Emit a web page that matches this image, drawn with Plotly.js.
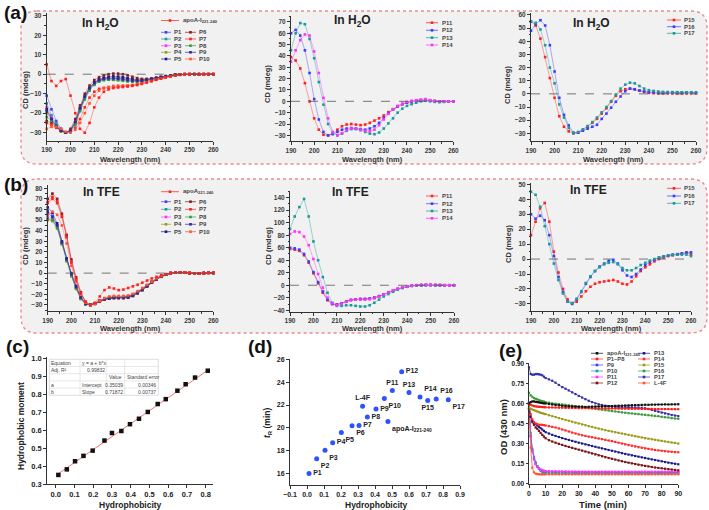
<!DOCTYPE html>
<html>
<head>
<meta charset="utf-8">
<script src="https://cdn.plot.ly/plotly-3.0.1.min.js"></script>
<style>html,body{margin:0;padding:0;background:#fff;}#chart{width:709px;height:510px;}</style>
</head>
<body>
<div id="chart"></div>
<script>
// ================= DATA =================
const wavelength = [190,192,194,196,198,200,202,204,206,208,210,212,214,216,218,220,222,224,226,228,230,232,234,236,238,240,242,244,246,248,250,252,254,256,258,260];

// (a) CD in H2O
const h2o_apoA = [5,-3.5,-6,-3.5,-2.5,-11,-20,-28,-30,-25,-17,-12,-9,-7.8,-7.1,-6.8,-6.6,-6.3,-6,-5.6,-5,-4.3,-3.6,-2.9,-2.2,-1.6,-1.1,-0.7,-0.3,0,0,0,0.1,0,0,0];
const h2o_P1 = [-11,-18,-24,-28,-30,-29,-25,-18,-12,-7.5,-4.5,-3,-2.2,-2,-2,-2,-2.2,-2.6,-3,-3.3,-3.3,-3,-2.6,-2.1,-1.6,-1.1,-0.7,-0.4,-0.2,0,0,0,0,0,0,0];
const h2o_P2 = [-15,-21,-25,-28,-30,-29.5,-26,-19,-13,-8.5,-5.5,-3.8,-3,-2.8,-2.8,-2.9,-3.1,-3.4,-3.6,-3.7,-3.6,-3.3,-2.9,-2.3,-1.8,-1.3,-0.9,-0.5,-0.2,0,0,0,0,0,0,0];
const h2o_P3 = [-17,-22,-26,-29,-30,-29,-25,-18,-12,-7.5,-4.8,-3.2,-2.5,-2.2,-2.2,-2.4,-2.7,-3,-3.3,-3.4,-3.3,-3,-2.6,-2.1,-1.6,-1.1,-0.7,-0.4,-0.2,0,0,0,0,0,0,0];
const h2o_P4 = [-20,-24,-27,-29.5,-30,-28.5,-24,-17,-11,-7,-4.3,-2.8,-2,-1.6,-1.5,-1.6,-1.9,-2.3,-2.7,-3,-3,-2.8,-2.4,-1.9,-1.4,-1,-0.6,-0.3,-0.1,0,0,0,0,0,0,0];
const h2o_P5 = [-18,-23,-27,-29,-30,-29,-24.5,-17.5,-11.5,-7,-4.2,-2.6,-1.8,-1.3,-1.1,-1.2,-1.5,-2,-2.5,-2.8,-2.9,-2.7,-2.3,-1.9,-1.4,-1,-0.6,-0.3,-0.1,0,0,0,0,0,0,0];
const h2o_P6 = [-24,-25,-27,-29,-30,-28,-23,-16,-10,-5.8,-3,-1.5,-0.6,0,0.3,0.3,0,-0.6,-1.3,-2,-2.4,-2.4,-2.2,-1.8,-1.4,-1,-0.6,-0.3,-0.1,0,0,0,0,0,0,0];
const h2o_P7 = [-25,-26,-27.5,-29,-30,-29.5,-27.5,-23,-17,-12,-9,-7.5,-7,-6.8,-6.6,-6.5,-6.3,-6,-5.6,-5,-4.4,-3.8,-3.2,-2.6,-2,-1.5,-1,-0.6,-0.3,-0.1,0,0,0,0,0,0];
const h2o_P8 = [-22,-24,-26,-28.5,-30,-29,-25,-18.5,-12.5,-8,-5.2,-3.7,-3,-2.8,-2.9,-3.1,-3.4,-3.7,-3.9,-4,-3.8,-3.4,-2.9,-2.3,-1.8,-1.3,-0.9,-0.5,-0.2,0,0,0,0,0,0,0];
const h2o_P9 = [-19,-23,-26.5,-29,-30,-29,-24.5,-17.5,-11.5,-7.3,-4.6,-3.1,-2.4,-2.1,-2.1,-2.3,-2.6,-3,-3.3,-3.4,-3.3,-3,-2.6,-2.1,-1.6,-1.1,-0.7,-0.4,-0.2,0,0,0,0,0,0,0];
const h2o_P10 = [-28,-27,-27,-28,-29.5,-30,-28.5,-25,-20,-15,-11,-8.5,-7.3,-6.5,-6,-5.8,-5.8,-5.8,-5.6,-5.2,-4.7,-4.1,-3.5,-2.8,-2.2,-1.6,-1.1,-0.7,-0.3,-0.1,0,0,0,0,0,0];
const h2o_P11 = [39,36,29,16,0,-15,-25,-29.5,-30,-28.5,-25,-22,-20.5,-20,-20.5,-21,-20.5,-19,-17,-15,-12.5,-9.5,-7,-4.5,-2.5,-1.2,-0.2,0.5,1,1,0.6,0.3,0,0,0,0];
const h2o_P12 = [60,63,58,45,25,2,-16,-27,-30,-29,-27,-25,-24,-23.5,-24,-24.5,-25,-24,-22,-19,-14.5,-10.5,-7,-4.5,-2.5,-1,0,0.6,1,1,0.5,0.2,0,0,0,0];
const h2o_P13 = [45,60,69,68,55,38,17,-3,-20,-28,-30,-28.5,-26,-24.5,-24.5,-25.5,-27,-28.5,-29,-27.5,-24,-19.5,-15,-10,-6.5,-4,-2.5,-1.2,0,0.5,0,-0.5,-0.8,-0.5,0,0];
const h2o_P14 = [35,45,54,59,58,44,25,3,-15,-27,-30,-28,-25.5,-24,-24,-25,-26,-26.5,-25,-21,-16,-11,-7,-4,-2,-0.5,0.5,1,1.5,2,1,0.3,0,0,0,0];
const h2o_P15 = [55,52,42,28,12,-3,-17,-25,-28.5,-30,-29.5,-27.5,-25,-22,-19,-15,-11,-6,-1.5,2,3.5,4,3.5,2.5,1.5,0.8,0.5,0.3,0.3,0.3,0.3,0.3,0.3,0.3,0.3,0.3];
const h2o_P16 = [48,53,56,52,37,17,-3,-16,-24,-29.5,-29.5,-28,-26.5,-25,-23.5,-19,-15,-10.5,-6,-2,2,4,3.5,2.5,1.8,1.3,1.1,1,1,1,1,1,1,1,1,1];
const h2o_P17 = [55,54,49,37,20,8,-8,-18,-26,-30,-29,-27,-24.5,-21.5,-18,-14,-10,-5.5,-0.5,4,7,8.5,8,6,4,2.8,2.2,1.8,1.5,1.4,1.3,1.3,1.2,1.2,1.2,1.2];

// (b) CD in TFE
const tfe_apoA = [66,70,66,53,34,10,-6,-19,-27,-30,-28,-22,-16,-13.5,-14.5,-16,-15.5,-14,-12.5,-11,-9,-7,-5,-3.5,-2,-1,0,0.5,0.8,0.5,0,-0.5,-0.3,0,0.5,0.3];
const tfe_P1 = [59,54,45,29,13,-1,-13,-23,-29,-30,-28.5,-26,-24.5,-23.5,-23,-23,-23,-22.5,-21,-18.5,-15.5,-12,-8.5,-5.5,-3,-1.3,0,0.5,0.7,0.5,0,-0.5,-0.4,0,0.3,0.2];
const tfe_P2 = [52,50,43,28,12,-2,-14,-24,-29,-30,-28.5,-26,-24,-23,-22.5,-22.5,-22.5,-22,-20.5,-18,-15,-11.5,-8,-5,-2.8,-1.2,0,0.5,0.7,0.5,0,-0.5,-0.4,0,0.3,0.2];
const tfe_P3 = [54,51,44,28,12,-2,-14,-24,-29,-30,-28.5,-26,-24,-23,-22.5,-22.5,-22.5,-22,-20.5,-18,-15,-11.5,-8,-5,-2.8,-1.2,0,0.5,0.7,0.5,0,-0.5,-0.4,0,0.3,0.2];
const tfe_P4 = [50,49,42,27,11,-3,-15,-24.5,-29.5,-30,-28.5,-26,-24.5,-23.5,-23,-23,-23,-22.5,-21,-18.5,-15.5,-12,-8.5,-5.5,-3,-1.3,0,0.5,0.7,0.5,0,-0.5,-0.4,0,0.3,0.2];
const tfe_P5 = [62,57,47,30,14,0,-12,-23,-29,-30,-28.5,-26.5,-25,-24,-23.5,-23.5,-23.5,-23,-21.5,-19,-16,-12.5,-9,-6,-3.3,-1.5,0,0.5,0.7,0.5,0,-0.5,-0.4,0,0.3,0.2];
const tfe_P6 = [70,75,70,56,36,13,-4,-18,-27,-30,-29,-27,-25,-24,-23.5,-23.5,-23.5,-23,-21.5,-19,-16,-12.5,-9,-6,-3.5,-1.5,0,0.5,0.8,0.6,0.2,-0.3,-0.3,0,0.3,0.2];
const tfe_P7 = [67,72,68,54,34,11,-5,-19,-27.5,-30,-29,-26.5,-24.5,-23,-22.5,-22.5,-22.5,-22,-20.5,-18,-15,-11.5,-8.5,-5.5,-3,-1.2,0,0.5,0.8,0.6,0.2,-0.3,-0.3,0,0.3,0.2];
const tfe_P8 = [51,50,43,28,12,-2,-14,-24,-29,-30,-28.5,-26,-24,-23,-22.5,-22.5,-22.5,-22,-20.5,-18,-15,-11.5,-8,-5,-2.8,-1.2,0,0.5,0.7,0.5,0,-0.5,-0.4,0,0.3,0.2];
const tfe_P9 = [57,53,45,29,13,-1,-13,-23,-29,-30,-28.5,-26,-24.5,-23.5,-23,-23,-23,-22.5,-21,-18.5,-15.5,-12,-8.5,-5.5,-3,-1.3,0,0.5,0.7,0.5,0,-0.5,-0.4,0,0.3,0.2];
const tfe_P10 = [55,58,55,45,28,7,-8,-20,-28,-30.5,-29,-26,-23.5,-22,-21.5,-21.5,-21.5,-21,-19.5,-17,-14,-11,-8,-5,-2.8,-1,0,0.5,0.8,0.6,0.2,-0.3,-0.3,0,0.3,0.2];
const tfe_P11 = [58,57,55,48,36,19,3,-12,-24,-30,-31,-29,-26,-23.5,-22.5,-22,-22,-21.5,-20,-17.5,-14.5,-11.5,-8.5,-6,-3.8,-2,-0.8,0,0.3,0.5,0.5,0.3,0.2,0,0,0];
const tfe_P12 = [60,59,57,50,38,21,5,-10,-23,-30,-31,-29,-26,-23.5,-22.5,-22,-22,-21.5,-20,-17.5,-14.5,-11.5,-8.5,-6,-3.8,-2,-0.8,0,0.3,0.5,0.5,0.3,0.2,0,0,0];
const tfe_P13 = [90,110,125,138,110,70,40,13,-12,-28,-33,-33,-32,-32,-33,-34,-34,-32,-28,-23,-18,-14,-10.5,-7,-4.5,-2.5,-1.2,-0.6,-0.3,0,0,0,0,0,0,0];
const tfe_P14 = [82,86,85,78,64,42,18,-4,-20,-29,-32,-29.5,-26.5,-24,-23,-23,-23,-22.5,-21,-18,-14.5,-11,-8,-5.5,-3.3,-1.6,-0.5,0,0.4,0.6,0.6,0.4,0.2,0,0,0];
const tfe_P15 = [16,25,34,37.5,25,5,-9,-20,-27,-29.5,-28.5,-25,-21.5,-18.5,-16.5,-15.5,-15,-14.5,-14,-15,-16.5,-17,-15,-11.5,-8,-5.5,-3.5,-1.5,0,1,2,2.5,3,3.5,4.5,3];
const tfe_P16 = [30,27,29,26,16,2,-12,-22,-28.5,-30,-27,-22,-16.5,-12,-8,-5,-3,-1.2,-0.5,-3,-7.5,-11,-12,-10,-7,-4,-2,-0.5,1,1.8,2.5,3,3.3,3.8,4.2,4.5];
const tfe_P17 = [45,43,35,22,10,-3,-14,-23,-28.5,-29.5,-26.5,-21.5,-16,-11.5,-8,-5.5,-3.5,-2.5,-2,-3.5,-6,-7.5,-7.5,-6,-4,-2.5,-1,0,1,1.8,2.5,2.8,3,3,3,2];

// (c) hydrophobic moment vs hydrophobicity
const hydroC = [0.014,0.059,0.103,0.148,0.197,0.26,0.30,0.35,0.396,0.444,0.491,0.544,0.587,0.649,0.693,0.743,0.811];
const momentC = [0.352,0.383,0.428,0.458,0.487,0.543,0.585,0.596,0.634,0.664,0.702,0.746,0.773,0.82,0.856,0.893,0.931];
const fitX = [0.01,0.82];
const fitY = [0.356,0.94];
const fitTable = [
  ["Equation","y = a + b*x","",""],
  ["Adj. R\u00b2","0.99832","",""],
  ["","","Value","Standard error"],
  ["a","Intercept","0.35039","0.00346"],
  ["b","Slope","0.71872","0.00737"]
];

// (d) retention time vs hydrophobicity
const namesD = ["P1","P2","P3","P4","P5","P6","P7","P8","P9","P10","P11","P12","P13","P14","P15","P16","P17","L-4F","apoA-I<sub>221-240</sub>"];
const hydroD = [0.012,0.057,0.106,0.151,0.202,0.265,0.306,0.355,0.406,0.455,0.502,0.557,0.60,0.665,0.71,0.76,0.831,0.327,0.476];
const retentionD = [16.0,17.3,18.05,18.7,19.6,20.18,20.2,20.94,21.64,22.58,23.28,24.92,23.1,22.7,22.4,22.52,22.45,21.9,20.56];

// (e) DMPC clearance, OD 430 nm
const timeMin = [0,1,2,3,4,5,6,7,8,9,10,12,14,16,18,20,22,24,26,28,30,32,34,36,38,40,42,44,46,48,50,52,54,56,58,60,62,64,66,68,70,72,74,76,78,80,82,84,86,88,90];
const od_apoA = [0.60,0.61,0.615,0.615,0.612,0.61,0.608,0.605,0.603,0.60,0.60,0.596,0.592,0.588,0.586,0.583,0.58,0.579,0.577,0.576,0.575,0.576,0.574,0.575,0.576,0.577,0.578,0.577,0.579,0.58,0.58,0.582,0.583,0.583,0.585,0.586,0.587,0.588,0.588,0.589,0.59,0.59,0.591,0.591,0.592,0.592,0.593,0.592,0.593,0.593,0.594];
const od_P1toP8 = [0.60,0.59,0.585,0.58,0.578,0.576,0.575,0.574,0.573,0.572,0.571,0.57,0.57,0.569,0.568,0.568,0.567,0.567,0.566,0.566,0.565,0.565,0.565,0.564,0.564,0.564,0.563,0.563,0.563,0.562,0.562,0.562,0.561,0.561,0.561,0.56,0.56,0.56,0.56,0.559,0.559,0.559,0.559,0.558,0.558,0.558,0.558,0.558,0.557,0.557,0.557];
const od_P9 = [0.60,0.36,0.25,0.19,0.15,0.13,0.115,0.105,0.098,0.094,0.09,0.089,0.088,0.088,0.087,0.087,0.087,0.086,0.086,0.086,0.086,0.086,0.085,0.085,0.085,0.085,0.085,0.085,0.085,0.085,0.085,0.084,0.084,0.084,0.084,0.084,0.084,0.084,0.084,0.084,0.084,0.084,0.084,0.084,0.084,0.084,0.084,0.084,0.084,0.084,0.084];
const od_P10 = [0.60,0.38,0.26,0.20,0.16,0.13,0.11,0.095,0.087,0.082,0.08,0.079,0.078,0.078,0.077,0.077,0.077,0.076,0.076,0.076,0.076,0.075,0.075,0.075,0.075,0.075,0.075,0.075,0.075,0.075,0.075,0.075,0.075,0.075,0.075,0.075,0.075,0.075,0.075,0.075,0.075,0.075,0.075,0.075,0.075,0.075,0.075,0.075,0.075,0.075,0.075];
const od_P11 = [0.60,0.35,0.24,0.18,0.145,0.125,0.112,0.104,0.10,0.097,0.095,0.094,0.093,0.093,0.092,0.092,0.092,0.091,0.091,0.091,0.091,0.09,0.09,0.09,0.09,0.09,0.09,0.09,0.09,0.09,0.09,0.09,0.09,0.09,0.09,0.09,0.09,0.09,0.09,0.09,0.09,0.09,0.09,0.09,0.09,0.09,0.09,0.09,0.09,0.09,0.09];
const od_P12 = [0.56,0.50,0.46,0.44,0.42,0.41,0.395,0.38,0.365,0.352,0.34,0.325,0.315,0.306,0.298,0.29,0.282,0.275,0.268,0.261,0.254,0.247,0.24,0.233,0.226,0.219,0.212,0.205,0.198,0.192,0.186,0.18,0.174,0.168,0.162,0.157,0.152,0.147,0.142,0.137,0.133,0.129,0.125,0.121,0.118,0.115,0.112,0.109,0.106,0.103,0.10];
const od_P13 = [0.56,0.50,0.47,0.455,0.445,0.435,0.425,0.415,0.405,0.395,0.385,0.375,0.365,0.357,0.349,0.341,0.334,0.327,0.32,0.313,0.306,0.30,0.294,0.288,0.282,0.276,0.27,0.264,0.258,0.252,0.246,0.24,0.234,0.228,0.222,0.217,0.212,0.207,0.202,0.197,0.192,0.187,0.182,0.177,0.172,0.167,0.162,0.157,0.153,0.149,0.145];
const od_P14 = [0.60,0.52,0.48,0.46,0.45,0.445,0.44,0.44,0.44,0.438,0.435,0.43,0.425,0.42,0.413,0.405,0.398,0.39,0.382,0.375,0.368,0.362,0.357,0.352,0.348,0.343,0.338,0.333,0.328,0.323,0.318,0.312,0.306,0.30,0.294,0.288,0.283,0.278,0.273,0.268,0.264,0.26,0.256,0.252,0.249,0.246,0.243,0.24,0.238,0.236,0.235];
const od_P15 = [0.57,0.56,0.555,0.55,0.545,0.54,0.535,0.53,0.527,0.523,0.52,0.512,0.505,0.498,0.49,0.483,0.476,0.47,0.463,0.456,0.45,0.443,0.437,0.43,0.424,0.418,0.412,0.406,0.40,0.395,0.39,0.385,0.38,0.375,0.37,0.365,0.36,0.355,0.35,0.345,0.34,0.336,0.332,0.328,0.324,0.32,0.316,0.312,0.308,0.305,0.30];
const od_P16 = [0.68,0.66,0.65,0.64,0.635,0.63,0.625,0.62,0.617,0.614,0.61,0.605,0.60,0.598,0.595,0.592,0.59,0.586,0.583,0.58,0.577,0.574,0.57,0.567,0.563,0.56,0.556,0.553,0.55,0.547,0.543,0.54,0.537,0.533,0.53,0.527,0.525,0.522,0.52,0.517,0.515,0.512,0.51,0.507,0.505,0.50,0.497,0.495,0.49,0.487,0.485];
const od_P17 = [0.87,0.82,0.815,0.815,0.82,0.82,0.818,0.815,0.81,0.80,0.79,0.78,0.77,0.755,0.738,0.722,0.71,0.697,0.683,0.67,0.656,0.644,0.632,0.62,0.61,0.601,0.594,0.588,0.583,0.579,0.576,0.574,0.573,0.572,0.572,0.572,0.571,0.57,0.569,0.567,0.564,0.558,0.552,0.545,0.538,0.531,0.525,0.519,0.513,0.509,0.505];
const od_L4F = [0.60,0.27,0.12,0.085,0.075,0.072,0.071,0.07,0.07,0.07,0.07,0.07,0.07,0.07,0.07,0.07,0.07,0.07,0.07,0.07,0.07,0.07,0.07,0.07,0.07,0.07,0.07,0.07,0.07,0.07,0.07,0.07,0.07,0.07,0.07,0.07,0.07,0.07,0.07,0.07,0.07,0.07,0.07,0.07,0.07,0.07,0.07,0.07,0.07,0.07,0.07];

// ================= STYLE / BUILD =================
const W = 709, H = 510;
const FONT = 'Liberation Sans, Arial, Helvetica, sans-serif';
const fx = p => p / W, fy = p => 1 - p / H;
function fade(hex, a) { const n = parseInt(hex.slice(1), 16); return `rgba(${n >> 16},${(n >> 8) & 255},${n & 255},${a})`; }

const C = {
  red: '#ff2020', blue: '#3c3cff', teal: '#1a9a9a', magenta: '#ff33ff', olive: '#9a9a1a',
  navy: '#1a1a8a', maroon: '#8a1a1a', green: '#3a9a3a', dblue: '#2a2aa0', orange: '#ff5533'
};

const traces = [];
const shapes = [];
const annotations = [];

function cd(xa, ya, y, color) {
  traces.push({ type: 'scatter', x: wavelength, y: y, xaxis: xa, yaxis: ya, mode: 'lines+markers',
    line: { color: fade(color, 0.5), width: 0.8 }, marker: { color: color, size: 2.6, symbol: 'square' },
    cliponaxis: false, showlegend: false, hoverinfo: 'skip' });
}
function ann(x, y, text, size, extra) {
  annotations.push(Object.assign({ xref: 'paper', yref: 'paper', x: fx(x), y: fy(y), text: text, showarrow: false,
    xanchor: 'center', yanchor: 'middle', font: { family: FONT, size: size, color: '#222', weight: 'bold' } }, extra || {}));
}
function legItem(x0, x1, y, color, label, tx, size) {
  shapes.push({ type: 'line', xref: 'paper', yref: 'paper', x0: fx(x0), x1: fx(x1), y0: fy(y), y1: fy(y), line: { color: fade(color, 0.7), width: 1 } });
  const cx = (x0 + x1) / 2;
  shapes.push({ type: 'rect', xref: 'paper', yref: 'paper', x0: fx(cx - 1.3), x1: fx(cx + 1.3), y0: fy(y + 1.3), y1: fy(y - 1.3), fillcolor: color, line: { width: 0 } });
  annotations.push({ xref: 'paper', yref: 'paper', x: fx(tx), y: fy(y), text: label, showarrow: false, xanchor: 'left', yanchor: 'middle', borderpad: 0,
    font: { family: FONT, size: size, color: '#444', weight: 'bold' } });
}
function roundBox(L, T, R, B, r) {
  const P = (x, y) => fx(x).toFixed(5) + ',' + fy(y).toFixed(5);
  return `M${P(L + r, T)} L${P(R - r, T)} Q${P(R, T)} ${P(R, T + r)} L${P(R, B - r)} Q${P(R, B)} ${P(R - r, B)} L${P(L + r, B)} Q${P(L, B)} ${P(L, B - r)} L${P(L, T + r)} Q${P(L, T)} ${P(L + r, T)} Z`;
}

// panel boxes
shapes.push({ type: 'path', xref: 'paper', yref: 'paper', layer: 'below', path: roundBox(21, 11, 707, 164, 16), fillcolor: '#f1f1f1', line: { color: '#f08a8a', width: 1.4, dash: 'dot' } });
shapes.push({ type: 'path', xref: 'paper', yref: 'paper', layer: 'below', path: roundBox(21, 179, 707, 333, 16), fillcolor: '#f1f1f1', line: { color: '#f08a8a', width: 1.4, dash: 'dot' } });

// ----- (a) and (b) groups -----
const g1Labels = ['P1','P2','P3','P4','P5','P6','P7','P8','P9','P10'];
const g1Colors = [C.blue, C.teal, C.magenta, C.olive, C.navy, C.maroon, C.red, C.green, C.dblue, C.orange];
const h2oG1 = [h2o_P1,h2o_P2,h2o_P3,h2o_P4,h2o_P5,h2o_P6,h2o_P7,h2o_P8,h2o_P9,h2o_P10];
const tfeG1 = [tfe_P1,tfe_P2,tfe_P3,tfe_P4,tfe_P5,tfe_P6,tfe_P7,tfe_P8,tfe_P9,tfe_P10];
const g2Labels = ['P11','P12','P13','P14'];
const g2Colors = [C.red, C.blue, C.teal, C.magenta];
const h2oG2 = [h2o_P11,h2o_P12,h2o_P13,h2o_P14];
const tfeG2 = [tfe_P11,tfe_P12,tfe_P13,tfe_P14];
const g3Labels = ['P15','P16','P17'];
const g3Colors = [C.red, C.blue, C.teal];
const h2oG3 = [h2o_P15,h2o_P16,h2o_P17];
const tfeG3 = [tfe_P15,tfe_P16,tfe_P17];

h2oG1.forEach((s, i) => cd('x', 'y', s, g1Colors[i]));
cd('x', 'y', h2o_apoA, C.red);
h2oG2.forEach((s, i) => cd('x2', 'y2', s, g2Colors[i]));
h2oG3.forEach((s, i) => cd('x3', 'y3', s, g3Colors[i]));
tfeG1.forEach((s, i) => cd('x4', 'y4', s, g1Colors[i]));
cd('x4', 'y4', tfe_apoA, C.red);
tfeG2.forEach((s, i) => cd('x5', 'y5', s, g2Colors[i]));
tfeG3.forEach((s, i) => cd('x6', 'y6', s, g3Colors[i]));

// legends for CD panels
function legendG1(apoY, rows, apoLabel) {
  legItem(161, 179, apoY, C.red, apoLabel, 182, 6);
  for (let i = 0; i < 5; i++) {
    legItem(161, 171, rows[i], g1Colors[i], g1Labels[i], 173, 6);
    legItem(185, 196, rows[i], g1Colors[i + 5], g1Labels[i + 5], 198, 6);
  }
}
legendG1(20.5, [32.3, 39, 45.7, 52.3, 59], 'apoA-I<sub>221-240</sub>');
legendG1(191.7, [201.7, 209.3, 217, 224.3, 231.7], 'apoA<sub>221-240</sub>');
[22.7, 30.3, 37.7, 45].forEach((y, i) => legItem(426, 438, y, g2Colors[i], g2Labels[i], 441, 6));
[196, 203.7, 211, 218.3].forEach((y, i) => legItem(426, 438, y, g2Colors[i], g2Labels[i], 441, 6));
[20, 26.7, 33.3].forEach((y, i) => legItem(667, 681, y, g3Colors[i], g3Labels[i], 683, 6));
[188.3, 196, 203.3].forEach((y, i) => legItem(667, 681, y, g3Colors[i], g3Labels[i], 683, 6));

// dashed zero lines
['y', 'y2', 'y3', 'y4', 'y5', 'y6'].forEach((ya, i) => {
  const xa = i === 0 ? 'x' : 'x' + (i + 1);
  shapes.push({ type: 'line', xref: xa + ' domain', yref: ya, x0: 0, x1: 1, y0: 0, y1: 0, line: { color: '#555', width: 0.8, dash: 'dash' } });
});

// ----- (c) -----
traces.push({ type: 'scatter', x: fitX, y: fitY, xaxis: 'x7', yaxis: 'y7', mode: 'lines', line: { color: '#ff7070', width: 1 }, showlegend: false, hoverinfo: 'skip' });
traces.push({ type: 'scatter', x: hydroC, y: momentC, xaxis: 'x7', yaxis: 'y7', mode: 'markers', marker: { color: '#111', size: 4.5, symbol: 'square' }, showlegend: false, hoverinfo: 'skip', cliponaxis: false });
// fit table
const tCols = [49.3, 80, 106.7, 124.7, 158.3];
const tRows = [359.3, 366.5, 373.7, 380.9, 388.1, 395.3];
shapes.push({ type: 'rect', xref: 'paper', yref: 'paper', x0: fx(tCols[0]), x1: fx(tCols[4]), y0: fy(tRows[5]), y1: fy(tRows[0]), fillcolor: '#ffffff', line: { color: '#c8c8c8', width: 0.6 } });
for (let r = 1; r < 5; r++) shapes.push({ type: 'line', xref: 'paper', yref: 'paper', x0: fx(tCols[0]), x1: fx(tCols[4]), y0: fy(tRows[r]), y1: fy(tRows[r]), line: { color: '#d0d0d0', width: 0.5 } });
for (let c = 1; c < 4; c++) shapes.push({ type: 'line', xref: 'paper', yref: 'paper', x0: fx(tCols[c]), x1: fx(tCols[c]), y0: fy(tRows[5]), y1: fy(tRows[0]), line: { color: '#d0d0d0', width: 0.5 } });
fitTable.forEach((row, r) => row.forEach((txt, c) => {
  if (!txt) return;
  const yc = (tRows[r] + tRows[r + 1]) / 2;
  const numeric = /^[0-9.]+$/.test(txt);
  annotations.push({ xref: 'paper', yref: 'paper', x: fx(numeric ? tCols[c + 1] - 1 : tCols[c] + 1), y: fy(yc), text: txt, showarrow: false,
    xanchor: numeric ? 'right' : 'left', yanchor: 'middle', borderpad: 0, font: { family: FONT, size: 5, color: '#444' } });
}));

// ----- (d) -----
const dLabelPos = ['middle right','bottom right','bottom right','middle right','bottom right','bottom right','middle right','middle right','middle right','bottom right','top center','middle right','top center','top right','bottom center','top right','bottom right','top center','bottom right'];
traces.push({ type: 'scatter', x: hydroD, y: retentionD, text: namesD, xaxis: 'x8', yaxis: 'y8', mode: 'markers+text', textposition: dLabelPos,
  textfont: { family: FONT, size: 7, color: '#222', weight: 'bold' }, marker: { color: '#2f52ff', size: 5, line: { width: 0 } }, showlegend: false, hoverinfo: 'skip', cliponaxis: false });

// ----- (e) -----
const eSeries = [
  ['apoA-I<sub>221-240</sub>', od_apoA, '#111111'],
  ['P1\u2013P8', od_P1toP8, '#ff1a1a'],
  ['P9', od_P9, '#3c3cff'],
  ['P10', od_P10, '#1a9a9a'],
  ['P11', od_P11, '#ff33ff'],
  ['P12', od_P12, '#7a1010'],
  ['P13', od_P13, '#1a1a8a'],
  ['P14', od_P14, '#ff2a2a'],
  ['P15', od_P15, '#9a9a1a'],
  ['P16', od_P16, '#3a9a3a'],
  ['P17', od_P17, '#3030a8'],
  ['L-4F', od_L4F, '#ff5533']
];
const eDrawOrder = [2, 3, 4, 11, 5, 6, 7, 8, 9, 10, 1, 0];
eDrawOrder.forEach(i => {
  const s = eSeries[i];
  traces.push({ type: 'scatter', x: timeMin, y: s[1], xaxis: 'x9', yaxis: 'y9', mode: 'lines+markers', line: { color: s[2], width: 0.8 },
    marker: { color: s[2], size: 2.2, symbol: 'square' }, showlegend: false, hoverinfo: 'skip', cliponaxis: false });
});
const eRows = [353.3, 359, 365, 371, 377, 383];
for (let i = 0; i < 6; i++) {
  legItem(591, 603, eRows[i], eSeries[i][2], eSeries[i][0], 606, 5.8);
  legItem(638, 650, eRows[i], eSeries[i + 6][2], eSeries[i + 6][0], 653, 5.8);
}

// ----- texts -----
ann(2, 12, '(a)', 19, { xanchor: 'left', font: { family: FONT, size: 19, color: '#111', weight: 'bold' } });
ann(2, 184, '(b)', 19, { xanchor: 'left', font: { family: FONT, size: 19, color: '#111', weight: 'bold' } });
ann(4, 346, '(c)', 19, { xanchor: 'left', font: { family: FONT, size: 19, color: '#111', weight: 'bold' } });
ann(246, 346, '(d)', 19, { xanchor: 'left', font: { family: FONT, size: 19, color: '#111', weight: 'bold' } });
ann(497, 350, '(e)', 19, { xanchor: 'left', font: { family: FONT, size: 19, color: '#111', weight: 'bold' } });

ann(100, 24, 'In H<sub>2</sub>O', 12);
ann(352, 21, 'In H<sub>2</sub>O', 12);
ann(591, 24, 'In H<sub>2</sub>O', 12);
ann(101, 192, 'In TFE', 12);
ann(350, 192, 'In TFE', 12);
ann(588, 190, 'In TFE', 12);

[[130, 159], [372, 159], [613.5, 159], [130.5, 328], [372, 328], [611, 328]].forEach(p => ann(p[0], p[1], 'Wavelength (nm)', 7.5, { font: { family: FONT, size: 7.5, color: '#333', weight: 'bold' } }));
[[25, 90], [268, 84], [508, 85], [25, 246], [268, 246], [508, 244]].forEach(p => ann(p[0], p[1], 'CD (mdeg)', 7.5, { textangle: -90, font: { family: FONT, size: 7.5, color: '#333', weight: 'bold' } }));

ann(130, 505, 'Hydrophobicity', 8.5);
ann(21, 426, 'Hydrophobic moment', 8.5, { textangle: -90 });
ann(377, 505, 'Hydrophobicity', 8.5);
ann(267, 423, '<i>t</i><sub>R</sub> (min)', 8.5, { textangle: -90 });
ann(603, 504, 'Time (min)', 9.5);
ann(503, 427, 'OD (430 nm)', 9.5, { textangle: -90 });

// ----- axes -----
function baseAx(extra) {
  return Object.assign({ showline: true, linecolor: '#333', linewidth: 1, ticks: 'outside', ticklen: 3, tickwidth: 1, tickcolor: '#333',
    showgrid: false, zeroline: false, fixedrange: true, tickfont: { family: FONT, size: 6.5, color: '#3a3a3a', weight: 'bold' } }, extra);
}
function xA(x0, x1, range, anchor, extra) { return baseAx(Object.assign({ domain: [fx(x0), fx(x1)], range: range, anchor: anchor }, extra)); }
function yA(yb, yt, range, anchor, extra) { return baseAx(Object.assign({ domain: [fy(yb), fy(yt)], range: range, anchor: anchor }, extra)); }
const cdX = { tickmode: 'linear', tick0: 190, dtick: 10, minor: { ticks: 'outside', ticklen: 1.5, dtick: 5, tickcolor: '#333' } };
const cdY = (d) => ({ tickmode: 'linear', tick0: 0, dtick: d, minor: { ticks: 'outside', ticklen: 1.5, dtick: d / 2, tickcolor: '#333' } });

const layout = {
  width: W, height: H, margin: { l: 0, r: 0, t: 0, b: 0 }, paper_bgcolor: '#ffffff', plot_bgcolor: 'rgba(0,0,0,0)',
  showlegend: false, font: { family: FONT },
  xaxis: xA(46.7, 213.3, [190, 260], 'y', cdX),
  yaxis: yA(140.5, 12.8, [-34, 31.5], 'x', cdY(10)),
  xaxis2: xA(291, 453.3, [190, 260], 'y2', cdX),
  yaxis2: yA(141, 16.3, [-35, 75], 'x2', cdY(10)),
  xaxis3: xA(531, 696, [190, 260], 'y3', cdX),
  yaxis3: yA(141.2, 13, [-36, 61.5], 'x3', cdY(10)),
  xaxis4: xA(47.7, 213.3, [190, 260], 'y4', cdX),
  yaxis4: yA(311.3, 185.1, [-36, 83], 'x4', cdY(10)),
  xaxis5: xA(290, 454, [190, 260], 'y5', cdX),
  yaxis5: yA(311.5, 191.45, [-42, 150], 'x5', cdY(20)),
  xaxis6: xA(531, 691, [190, 260], 'y6', cdX),
  yaxis6: yA(311.4, 182.8, [-35, 51], 'x6', cdY(10)),
  xaxis7: xA(47.3, 213.2, [-0.045, 0.84], 'y7', { tickmode: 'linear', tick0: 0, dtick: 0.1, tickformat: '.1f', tickfont: { family: FONT, size: 7.5, color: '#222', weight: 'bold' } }),
  yaxis7: yA(484.3, 356.5, [0.3, 1.01], 'x7', { tickmode: 'linear', tick0: 0.3, dtick: 0.1, tickformat: '.1f', tickfont: { family: FONT, size: 7.5, color: '#222', weight: 'bold' } }),
  xaxis8: xA(290, 460, [-0.1, 0.9], 'y8', { tickmode: 'linear', tick0: -0.1, dtick: 0.1, tickformat: '.1f', tickfont: { family: FONT, size: 7, color: '#222', weight: 'bold' } }),
  yaxis8: yA(485, 359.3, [15, 26], 'x8', { tickmode: 'linear', tick0: 16, dtick: 2, tickfont: { family: FONT, size: 7, color: '#222', weight: 'bold' } }),
  xaxis9: xA(529, 678.3, [0, 90], 'y9', { tickmode: 'linear', tick0: 0, dtick: 10, tickfont: { family: FONT, size: 7, color: '#222', weight: 'bold' } }),
  yaxis9: yA(483.7, 363.3, [0, 0.9], 'x9', { tickmode: 'linear', tick0: 0, dtick: 0.15, tickformat: '.2f', ticklen: 2.5, tickfont: { family: FONT, size: 6.5, color: '#222', weight: 'bold' } }),
  shapes: shapes,
  annotations: annotations
};

Plotly.newPlot('chart', traces, layout, { staticPlot: true, displayModeBar: false });
</script>
</body>
</html>
